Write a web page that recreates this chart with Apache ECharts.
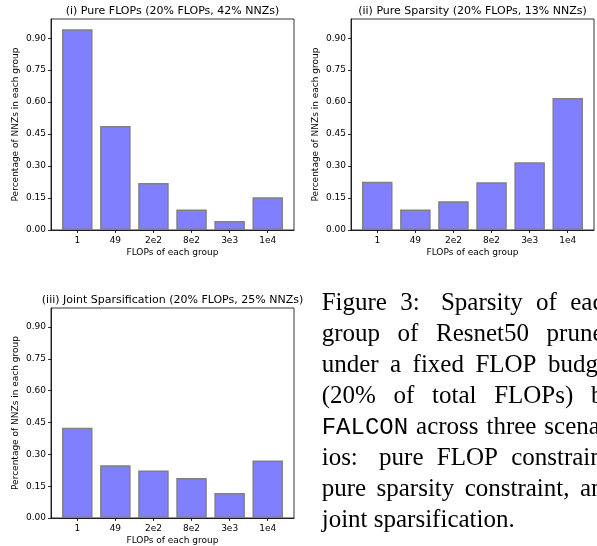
<!DOCTYPE html>
<html>
<head>
    <meta charset="utf-8">
    <title>Sparsity per FLOP group</title>
    <script src="https://cdn.jsdelivr.net/npm/echarts@6/dist/echarts.min.js"></script>
    <style>
        html, body {margin:0;padding:0;background:#fff}
        #chart {width:597px;height:546px}
    </style>
</head>
<body>
<div id="chart"></div>
<script>
    // data
    var categories = ['1', '49', '2e2', '8e2', '3e3', '1e4'];
    var pureFlops = [0.942, 0.488, 0.221, 0.096, 0.042, 0.154];
    var pureSparsity = [0.226, 0.096, 0.135, 0.224, 0.318, 0.619];
    var jointSparsification = [0.425, 0.249, 0.224, 0.188, 0.118, 0.271];
    var yTicks = [0, 0.15, 0.30, 0.45, 0.60, 0.75, 0.90];
    var titles = [
        '(i) Pure FLOPs (20% FLOPs, 42% NNZs)',
        '(ii) Pure Sparsity (20% FLOPs, 13% NNZs)',
        '(iii) Joint Sparsification (20% FLOPs, 25% NNZs)'
    ];
    var captionLines = [
        ['Figure', '3:', 'Sparsity', 'of', 'each'],
        ['group', 'of', 'Resnet50', 'pruned'],
        ['under', 'a', 'fixed', 'FLOP', 'budget'],
        ['(20%', 'of', 'total', 'FLOPs)', 'by'],
        ['FALCON', 'across', 'three', 'scenar-'],
        ['ios:', 'pure', 'FLOP', 'constraint,'],
        ['pure', 'sparsity', 'constraint,', 'and'],
        ['joint', 'sparsification.']
    ];

    var FONT = 'DejaVu Sans';
    var panels = [
        {data: pureFlops, left: 51, top: 19},
        {data: pureSparsity, left: 351, top: 19},
        {data: jointSparsification, left: 51, top: 308}
    ];
    var gridW = 243, gridH = 211;

    var grids = [], xAxes = [], yAxes = [], series = [], graphics = [];
    panels.forEach(function (p, i) {
        grids.push({
            left: p.left, top: p.top, width: gridW, height: gridH,
            show: true, borderColor: '#000', borderWidth: 0.8, backgroundColor: 'transparent'
        });
        xAxes.push({
            gridIndex: i, type: 'value', min: -0.69, max: 5.69,
            axisLine: {show: true, onZero: false, lineStyle: {color: '#000', width: 0.8}},
            axisTick: {show: true, length: 3, customValues: [0, 1, 2, 3, 4, 5], lineStyle: {color: '#000', width: 0.8}},
            axisLabel: {
                customValues: [0, 1, 2, 3, 4, 5], margin: 6,
                color: '#000', fontSize: 9, fontFamily: FONT,
                formatter: function (v) { return categories[Math.round(v)]; }
            },
            splitLine: {show: false},
            name: 'FLOPs of each group', nameLocation: 'middle', nameGap: 18,
            nameTextStyle: {color: '#000', fontSize: 9, fontFamily: FONT}
        });
        yAxes.push({
            gridIndex: i, type: 'value', min: 0, max: 0.99,
            axisLine: {show: true, onZero: false, lineStyle: {color: '#000', width: 0.8}},
            axisTick: {show: true, length: 3, customValues: yTicks, lineStyle: {color: '#000', width: 0.8}},
            axisLabel: {
                customValues: yTicks, margin: 5,
                color: '#000', fontSize: 9, fontFamily: FONT,
                formatter: function (v) { return v.toFixed(2); }
            },
            splitLine: {show: false},
            name: 'Percentage of NNZs in each group', nameLocation: 'middle', nameGap: 31,
            nameTextStyle: {color: '#000', fontSize: 9, fontFamily: FONT}
        });
        series.push({
            type: 'bar', xAxisIndex: i, yAxisIndex: i, barWidth: 30.5,
            itemStyle: {color: '#8080ff', borderColor: '#808080', borderWidth: 1.5},
            data: p.data.map(function (v, k) { return [k, v]; })
        });
        graphics.push({
            type: 'text', x: p.left + gridW / 2, y: p.top - 8,
            style: {
                text: titles[i], font: '11px "' + FONT + '"', fill: '#000',
                align: 'center', verticalAlign: 'middle', textAlign: 'center', textVerticalAlign: 'middle'
            }
        });
    });

    // caption: justified lines, words measured in the real fonts
    var capSize = 25, capX = 321.7, capRight = 616, capBase = 311.7, capStep = 30.9;
    var serif = capSize + 'px "Liberation Serif"';
    var mono = (capSize - 1) + 'px "Liberation Mono"';
    var ctx = document.createElement('canvas').getContext('2d');
    function fontFor(w) { return w === 'FALCON' ? mono : serif; }
    function width(w) { ctx.font = fontFor(w); return ctx.measureText(w).width; }
    ctx.font = serif;
    var spaceW = ctx.measureText(' ').width;

    captionLines.forEach(function (words, li) {
        var widths = words.map(width);
        var total = widths.reduce(function (a, b) { return a + b; }, 0);
        var weights = [], wsum = 0;
        for (var k = 1; k < words.length; k++) {
            var wt = /[:.]$/.test(words[k - 1]) ? 1.6 : 1;
            weights.push(wt); wsum += wt;
        }
        var last = li === captionLines.length - 1;
        var unit = last ? spaceW : (capRight - capX - total) / wsum;
        var x = capX;
        words.forEach(function (w, k) {
            graphics.push({
                type: 'text', x: x, y: capBase + li * capStep - 0.32 * capSize,
                style: {
                    text: w, font: fontFor(w), fill: '#000',
                    align: 'left', verticalAlign: 'middle', textAlign: 'left', textVerticalAlign: 'middle'
                }
            });
            x += widths[k] + (k < weights.length ? (last ? unit : unit * weights[k]) : 0);
        });
    });

    var chart = echarts.init(document.getElementById('chart'));
    chart.setOption({
        animation: false,
        backgroundColor: '#fff',
        textStyle: {fontFamily: FONT},
        grid: grids,
        xAxis: xAxes,
        yAxis: yAxes,
        series: series,
        graphic: graphics
    });
</script>
</body>
</html>
